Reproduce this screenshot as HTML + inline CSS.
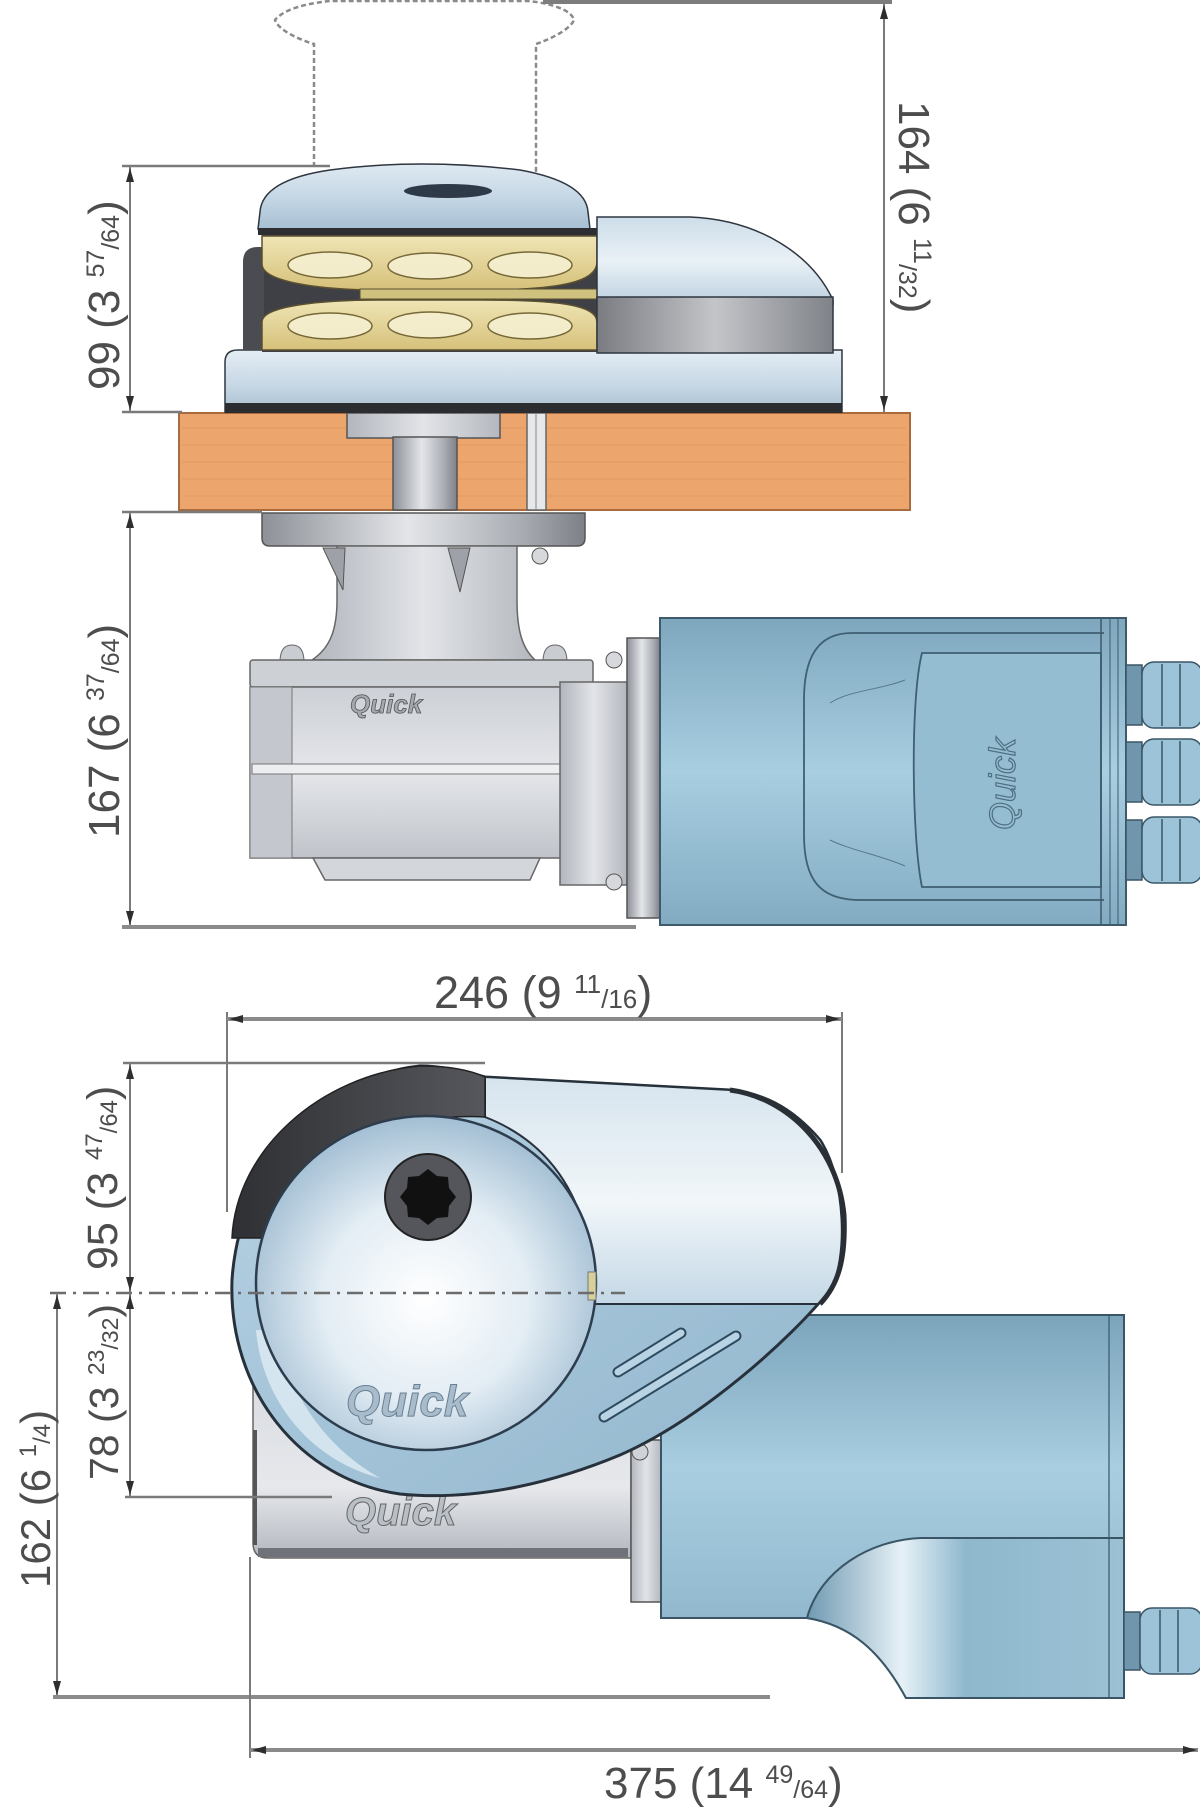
<!DOCTYPE html>
<html><head><meta charset="utf-8"><style>
html,body{margin:0;padding:0;background:#fff;}
svg{display:block;}
.dim{font-family:"Liberation Sans",sans-serif;fill:#4d4d4d;}
</style></head><body>
<svg width="1200" height="1809" viewBox="0 0 1200 1809" xmlns="http://www.w3.org/2000/svg">
<defs>
<linearGradient id="gDome" x1="0" y1="0" x2="0" y2="1"><stop offset="0" stop-color="#dfe9f1"/><stop offset="0.5" stop-color="#c6d8e6"/><stop offset="1" stop-color="#a7bfd2"/></linearGradient>
<linearGradient id="gBase" x1="0" y1="0" x2="0" y2="1"><stop offset="0" stop-color="#e4edf4"/><stop offset="0.6" stop-color="#c5d6e4"/><stop offset="1" stop-color="#a9bfd0"/></linearGradient>
<linearGradient id="gGold" x1="0" y1="0" x2="0" y2="1"><stop offset="0" stop-color="#efe5b5"/><stop offset="1" stop-color="#d6c17a"/></linearGradient>
<linearGradient id="gBand" x1="0" y1="0" x2="1" y2="0"><stop offset="0" stop-color="#7a7c82"/><stop offset="0.5" stop-color="#c3c5c9"/><stop offset="1" stop-color="#7f8288"/></linearGradient>
<linearGradient id="gHoodTop" x1="0" y1="0" x2="0" y2="1"><stop offset="0" stop-color="#cddde9"/><stop offset="0.5" stop-color="#e9f1f6"/><stop offset="1" stop-color="#bcd0df"/></linearGradient>
<linearGradient id="gSteel" x1="0" y1="0" x2="1" y2="0"><stop offset="0" stop-color="#8d9197"/><stop offset="0.45" stop-color="#e3e5e9"/><stop offset="0.8" stop-color="#a9adb3"/><stop offset="1" stop-color="#7d8187"/></linearGradient>
<linearGradient id="gSteel2" x1="0" y1="0" x2="1" y2="0"><stop offset="0" stop-color="#b2b6bd"/><stop offset="0.5" stop-color="#e2e4e8"/><stop offset="1" stop-color="#b4b8be"/></linearGradient>
<linearGradient id="gBody" x1="0" y1="0" x2="0" y2="1"><stop offset="0" stop-color="#cdd0d6"/><stop offset="0.5" stop-color="#e4e6ea"/><stop offset="1" stop-color="#c0c4ca"/></linearGradient>
<linearGradient id="gMotor" x1="0" y1="0" x2="0" y2="1"><stop offset="0" stop-color="#7ea7be"/><stop offset="0.5" stop-color="#a8cee1"/><stop offset="1" stop-color="#82abc2"/></linearGradient>
<linearGradient id="gMotorP" x1="0" y1="0" x2="0" y2="1"><stop offset="0" stop-color="#7ba4bb"/><stop offset="0.4" stop-color="#a9cee1"/><stop offset="1" stop-color="#85adc4"/></linearGradient>
<linearGradient id="gFoot" x1="0" y1="0" x2="1" y2="0"><stop offset="0" stop-color="#6f9ab2"/><stop offset="0.3" stop-color="#e6f1f7"/><stop offset="0.5" stop-color="#8fb8cd"/><stop offset="1" stop-color="#9cc1d5"/></linearGradient>
<radialGradient id="gDrum" cx="0.5" cy="0.55" r="0.55"><stop offset="0" stop-color="#ffffff"/><stop offset="0.55" stop-color="#e3edf4"/><stop offset="1" stop-color="#a2bed3"/></radialGradient>
<linearGradient id="gHoodP" x1="0" y1="0" x2="0" y2="1"><stop offset="0" stop-color="#d6e4ee"/><stop offset="0.55" stop-color="#f1f6f9"/><stop offset="1" stop-color="#c4d8e6"/></linearGradient>
<linearGradient id="gShell" x1="0" y1="0" x2="1" y2="1"><stop offset="0" stop-color="#b9d3e4"/><stop offset="0.5" stop-color="#a3c3d8"/><stop offset="1" stop-color="#93b7cd"/></linearGradient>
<linearGradient id="gRim" x1="0" y1="0" x2="1" y2="0"><stop offset="0" stop-color="#2f3034"/><stop offset="1" stop-color="#55575c"/></linearGradient>
<linearGradient id="gGearP" x1="0" y1="0" x2="0" y2="1"><stop offset="0" stop-color="#d9dce1"/><stop offset="0.6" stop-color="#e6e8ec"/><stop offset="1" stop-color="#b3b7be"/></linearGradient>
</defs>

<!-- ============ TOP SECTION: side elevation ============ -->
<!-- dashed capstan -->
<path d="M314,167 V44 C300,40 278,30 275,20 C285,8 310,3 330,1 H528 C550,3 572,10 574,20 C570,30 548,40 536,44 V172" fill="none" stroke="#8a8a8a" stroke-width="2.5" stroke-dasharray="5 3"/>
<line x1="543" y1="2" x2="892" y2="2" stroke="#7d7d7d" stroke-width="4"/>

<!-- deck -->
<rect x="179" y="413" width="731" height="97" fill="#eba56d" stroke="#a86b3d" stroke-width="2"/>
<g stroke="#dc9659" stroke-width="1" opacity="0.6">
<line x1="182" y1="428" x2="906" y2="428"/><line x1="182" y1="445" x2="906" y2="445"/><line x1="182" y1="462" x2="906" y2="462"/><line x1="182" y1="479" x2="906" y2="479"/><line x1="182" y1="496" x2="906" y2="496"/>
</g>
<rect x="347" y="413" width="153" height="25" fill="url(#gSteel2)" stroke="#555" stroke-width="1.5"/>
<rect x="393" y="437" width="64" height="73" fill="url(#gSteel)" stroke="#555" stroke-width="1.5"/>
<rect x="527" y="413" width="19" height="97" fill="#e6e8ea" stroke="#666" stroke-width="1.5"/>
<line x1="536" y1="413" x2="536" y2="510" stroke="#888" stroke-width="1"/>

<!-- base plate -->
<path d="M225,412 V362 Q225,350 238,350 H842 V412 Z" fill="url(#gBase)" stroke="#2f3640" stroke-width="1.5"/>
<rect x="225" y="403" width="617" height="10" fill="#2c2d31"/>
<!-- gypsy -->
<path d="M262,232 H600 V352 H262 Z" fill="#3f4045"/>
<path d="M243,262 Q243,247 258,247 H264 V350 H243 Z" fill="#4b4c51"/>
<path d="M262,236 H597 V262 C597,282 560,290 480,290 H380 C320,290 262,282 262,264 Z" fill="url(#gGold)" stroke="#5b5030" stroke-width="1.5"/>
<path d="M262,350 H597 V322 C597,305 560,300 480,300 H380 C320,300 262,306 262,322 Z" fill="url(#gGold)" stroke="#5b5030" stroke-width="1.5"/>
<rect x="360" y="289" width="237" height="10" fill="#cfc17e" stroke="#5b5030" stroke-width="1"/>
<g fill="#f6f0d2" stroke="#6b5e2e" stroke-width="1.5" opacity="0.9">
<ellipse cx="330" cy="265" rx="42" ry="13"/><ellipse cx="430" cy="266" rx="42" ry="13"/><ellipse cx="530" cy="265" rx="42" ry="13"/>
<ellipse cx="330" cy="326" rx="42" ry="13"/><ellipse cx="430" cy="325" rx="42" ry="13"/><ellipse cx="530" cy="326" rx="42" ry="13"/>
</g>
<!-- dome -->
<path d="M258,229 L260,212 Q262,180 330,170 Q420,158 520,170 Q586,182 588,212 L590,229 Z" fill="url(#gDome)" stroke="#2f3640" stroke-width="1.5"/>
<rect x="258" y="228" width="342" height="7" fill="#2d2e32"/>
<ellipse cx="448" cy="191" rx="44" ry="7" fill="#2e3a48"/>
<!-- hood -->
<path d="M597,217 H690 C760,220 812,255 833,300 L833,305 H597 Z" fill="url(#gHoodTop)" stroke="#2f3640" stroke-width="1.5"/>
<path d="M597,297 H833 V353 H597 Z" fill="url(#gBand)" stroke="#2f3640" stroke-width="1.5"/>

<!-- gearbox side -->
<path d="M262,513 H585 V538 Q585,546 577,546 H270 Q262,546 262,538 Z" fill="url(#gSteel)" stroke="#555" stroke-width="1.5"/>
<path d="M337,546 H517 V600 C517,630 522,648 535,660 H312 C330,648 337,630 337,600 Z" fill="url(#gSteel2)" stroke="#666" stroke-width="1.5"/>
<path d="M323,548 L345,548 L343,590 Z" fill="#9ea2a8" stroke="#555"/>
<path d="M448,548 L470,548 L460,592 Z" fill="#9ea2a8" stroke="#555"/>
<circle cx="540" cy="556" r="8" fill="#d6d8dc" stroke="#555"/>
<path d="M280,662 Q280,645 292,645 Q304,645 304,662 Z" fill="#c9ccd1" stroke="#666"/>
<path d="M543,662 Q543,645 555,645 Q567,645 567,662 Z" fill="#c9ccd1" stroke="#666"/>
<rect x="250" y="660" width="343" height="27" rx="3" fill="#cdd0d5" stroke="#666" stroke-width="1.5"/>
<rect x="250" y="687" width="313" height="171" fill="url(#gBody)" stroke="#666" stroke-width="1.5"/>
<rect x="250" y="687" width="42" height="171" fill="#c4c7cd" stroke="#777" stroke-width="1"/>
<rect x="252" y="764" width="308" height="10" fill="#eceef0" stroke="#777" stroke-width="1"/>
<rect x="560" y="682" width="67" height="203" fill="url(#gSteel2)" stroke="#666" stroke-width="1.5"/>
<path d="M313,858 H540 L530,880 H325 Z" fill="#d3d6db" stroke="#666" stroke-width="1.5"/>
<text x="350" y="713" font-family="Liberation Sans,sans-serif" font-size="26" font-style="italic" font-weight="bold" fill="#a4aab2" stroke="#555" stroke-width="0.8">Quick</text>
<rect x="627" y="638" width="33" height="280" fill="url(#gSteel)" stroke="#555" stroke-width="1.5"/>
<circle cx="614" cy="660" r="8" fill="#d6d8dc" stroke="#555"/>
<circle cx="614" cy="882" r="8" fill="#d6d8dc" stroke="#555"/>

<!-- motor side -->
<rect x="660" y="618" width="466" height="307" fill="url(#gMotor)" stroke="#3e5a6b" stroke-width="2"/>
<path d="M1104,633 H852 C816,633 804,660 804,700 V835 C804,880 820,900 860,900 H1104" fill="none" stroke="#3f5f72" stroke-width="1.8"/>
<path d="M922,653 H1101 V887 H922 C912,840 910,700 922,653 Z" fill="#95bdd1" stroke="#3f5f72" stroke-width="1.8"/>
<path d="M830,703 C850,690 880,690 905,680" fill="none" stroke="#56788a" stroke-width="1"/>
<path d="M830,840 C850,850 880,855 905,866" fill="none" stroke="#56788a" stroke-width="1"/>
<line x1="1101" y1="618" x2="1101" y2="925" stroke="#3e5a6b" stroke-width="1.5"/>
<line x1="1110" y1="618" x2="1110" y2="925" stroke="#3e5a6b" stroke-width="1"/>
<line x1="1118" y1="618" x2="1118" y2="925" stroke="#3e5a6b" stroke-width="1"/>
<text transform="translate(1015,830) rotate(-90)" font-family="Liberation Sans,sans-serif" font-size="36" font-style="italic" fill="none" stroke="#4f6f82" stroke-width="1.2">Quick</text>
<g stroke="#3a5666" stroke-width="1.5">
<rect x="1126" y="665" width="16" height="60" fill="#6f96ad"/><rect x="1142" y="662" width="60" height="66" rx="12" fill="#9cc3d7"/>
<rect x="1126" y="742" width="16" height="60" fill="#6f96ad"/><rect x="1142" y="739" width="60" height="66" rx="12" fill="#9cc3d7"/>
<rect x="1126" y="820" width="16" height="60" fill="#6f96ad"/><rect x="1142" y="817" width="60" height="66" rx="12" fill="#9cc3d7"/>
<line x1="1162" y1="664" x2="1162" y2="726"/><line x1="1180" y1="664" x2="1180" y2="726"/>
<line x1="1162" y1="741" x2="1162" y2="803"/><line x1="1180" y1="741" x2="1180" y2="803"/>
<line x1="1162" y1="819" x2="1162" y2="881"/><line x1="1180" y1="819" x2="1180" y2="881"/>
</g>

<!-- ============ BOTTOM SECTION: plan view ============ -->
<!-- gearbox plan -->
<path d="M253,1380 H631 V1558 H268 Q253,1558 253,1543 Z" fill="url(#gGearP)" stroke="#666" stroke-width="1.5"/>
<rect x="258" y="1548" width="370" height="9" fill="#6f7278"/>
<line x1="255" y1="1430" x2="255" y2="1545" stroke="#555" stroke-width="4"/>
<text x="345" y="1525" font-family="Liberation Sans,sans-serif" font-size="40" font-style="italic" font-weight="bold" fill="#b9bfc7" stroke="#666" stroke-width="1">Quick</text>
<rect x="631" y="1440" width="30" height="162" fill="url(#gSteel2)" stroke="#555" stroke-width="1.5"/>
<circle cx="640" cy="1452" r="8" fill="#cfd2d6" stroke="#555"/>
<!-- motor plan -->
<path d="M661,1315 H1124 V1698 H906 C880,1650 850,1625 807,1618 H661 Z" fill="url(#gMotorP)" stroke="#3a5666" stroke-width="2"/>
<path d="M807,1618 C820,1570 870,1540 921,1538 H1124 V1698 H906 C880,1650 850,1625 807,1618 Z" fill="url(#gFoot)" stroke="#3a5666" stroke-width="2"/>
<line x1="1109" y1="1315" x2="1109" y2="1698" stroke="#3a5666" stroke-width="1.2"/>
<g stroke="#3a5666" stroke-width="1.5">
<rect x="1124" y="1612" width="16" height="58" fill="#6f96ad"/><rect x="1140" y="1608" width="62" height="66" rx="12" fill="#9cc3d7"/>
<line x1="1160" y1="1610" x2="1160" y2="1672"/><line x1="1178" y1="1610" x2="1178" y2="1672"/>
</g>
<!-- hood plan -->
<path d="M420,1066 C330,1075 240,1160 232,1280 C228,1390 300,1480 400,1494 C480,1502 560,1480 620,1455 C700,1420 790,1340 830,1290 C848,1260 846,1180 820,1140 C790,1105 760,1093 730,1090 L485,1077 C460,1070 440,1066 420,1066 Z" fill="url(#gShell)" stroke="#27313b" stroke-width="3"/>
<path d="M256,1330 C262,1400 310,1460 380,1478 C330,1450 290,1400 276,1330 Z" fill="#e0ecf4" opacity="0.8"/>
<path d="M485,1077 L730,1090 C760,1093 790,1105 820,1140 C846,1180 848,1260 830,1290 L818,1304 H592 C596,1230 570,1150 485,1117 Z" fill="url(#gHoodP)" stroke="#27313b" stroke-width="2"/>
<path d="M730,1090 C790,1098 838,1150 844,1215 C846,1260 838,1285 820,1304" fill="none" stroke="#2a2f36" stroke-width="5"/>
<path d="M232,1238 C236,1150 320,1075 420,1066 C450,1066 470,1070 485,1077 L485,1117 C400,1112 300,1150 262,1238 Z" fill="url(#gRim)" stroke="#222" stroke-width="1.5"/>
<ellipse cx="426" cy="1283" rx="170" ry="167" fill="url(#gDrum)" stroke="#2d3d4d" stroke-width="2.5"/>
<circle cx="428" cy="1197" r="43" fill="#55565b" stroke="#222" stroke-width="2"/>
<polygon points="428,1169 437,1176 448,1177 449,1188 456,1197 449,1206 448,1217 437,1218 428,1225 419,1218 408,1217 407,1206 400,1197 407,1188 408,1177 419,1176" fill="#111"/>
<rect x="588" y="1272" width="8" height="28" fill="#d8d09a" stroke="#777" stroke-width="1"/>
<line x1="618" y1="1372" x2="681" y2="1333" stroke="#2e4a5e" stroke-width="11" stroke-linecap="round"/>
<line x1="618" y1="1372" x2="681" y2="1333" stroke="#b8d3e4" stroke-width="7" stroke-linecap="round"/>
<line x1="604" y1="1417" x2="736" y2="1336" stroke="#2e4a5e" stroke-width="11" stroke-linecap="round"/>
<line x1="604" y1="1417" x2="736" y2="1336" stroke="#b8d3e4" stroke-width="7" stroke-linecap="round"/>
<text x="346" y="1416" font-family="Liberation Sans,sans-serif" font-size="44" font-style="italic" font-weight="bold" fill="#a9bccb" stroke="#6a8093" stroke-width="1">Quick</text>

<!-- ============ DIMENSIONS ============ -->
<g stroke="#7a7a7a" fill="none">
<!-- 164 -->
<line x1="884" y1="3" x2="884" y2="412" stroke-width="2"/>
<!-- 99 -->
<line x1="122" y1="166" x2="330" y2="166" stroke-width="2.5"/>
<line x1="130" y1="166" x2="130" y2="412" stroke-width="2"/>
<line x1="122" y1="412" x2="182" y2="412" stroke-width="2.5"/>
<!-- 167 -->
<line x1="122" y1="512" x2="262" y2="512" stroke-width="2.5"/>
<line x1="130" y1="512" x2="130" y2="927" stroke-width="2"/>
<line x1="122" y1="927" x2="636" y2="927" stroke-width="4" stroke="#8a8a8a"/>
<!-- 246 -->
<line x1="227" y1="1012" x2="227" y2="1212" stroke-width="2"/>
<line x1="842" y1="1012" x2="842" y2="1173" stroke-width="2"/>
<line x1="227" y1="1019" x2="842" y2="1019" stroke-width="4" stroke="#8a8a8a"/>
<!-- 95 -->
<line x1="123" y1="1063" x2="485" y2="1063" stroke-width="2.5"/>
<line x1="130" y1="1063" x2="130" y2="1293" stroke-width="2"/>
<!-- center line -->
<line x1="50" y1="1293" x2="625" y2="1293" stroke-width="2.5" stroke="#6c6c6c" stroke-dasharray="16 7 3 7"/>
<!-- 78 -->
<line x1="130" y1="1293" x2="130" y2="1497" stroke-width="2"/>
<line x1="125" y1="1497" x2="332" y2="1497" stroke-width="2.5"/>
<!-- 162 -->
<line x1="57" y1="1293" x2="57" y2="1697" stroke-width="2"/>
<line x1="53" y1="1697" x2="770" y2="1697" stroke-width="4" stroke="#8a8a8a"/>
<!-- 375 -->
<line x1="250" y1="1557" x2="250" y2="1758" stroke-width="2"/>
<line x1="250" y1="1750" x2="1198" y2="1750" stroke-width="4" stroke="#8a8a8a"/>
</g>
<g fill="#2e2e2e">
<polygon points="884,5 880,19 888,19"/><polygon points="884,410 880,396 888,396"/>
<polygon points="130,168 126,182 134,182"/><polygon points="130,410 126,396 134,396"/>
<polygon points="130,514 126,528 134,528"/><polygon points="130,925 126,911 134,911"/>
<polygon points="229,1019 243,1015 243,1023"/><polygon points="840,1019 826,1015 826,1023"/>
<polygon points="130,1065 126,1079 134,1079"/><polygon points="130,1291 126,1277 134,1277"/>
<polygon points="130,1295 126,1309 134,1309"/><polygon points="130,1495 126,1481 134,1481"/>
<polygon points="57,1295 53,1309 61,1309"/><polygon points="57,1695 53,1681 61,1681"/>
<polygon points="252,1750 266,1746 266,1754"/><polygon points="1197,1750 1183,1746 1183,1754"/>
</g>

<!-- labels -->
<text class="dim" transform="translate(899,101) rotate(90)" font-size="44">164 (6 <tspan font-size="25" dy="-15">11</tspan><tspan font-size="25" dy="15">/32</tspan>)</text>
<text class="dim" transform="translate(119,390) rotate(-90)" font-size="44">99 (3 <tspan font-size="25" dy="-15">57</tspan><tspan font-size="25" dy="15">/64</tspan>)</text>
<text class="dim" transform="translate(119,838) rotate(-90)" font-size="44">167 (6 <tspan font-size="25" dy="-15">37</tspan><tspan font-size="25" dy="15">/64</tspan>)</text>
<text class="dim" x="434" y="1008" font-size="45">246 (9 <tspan font-size="26" dy="-15">11</tspan><tspan font-size="26" dy="15">/16</tspan>)</text>
<text class="dim" transform="translate(117,1270) rotate(-90)" font-size="43">95 (3 <tspan font-size="24" dy="-15">47</tspan><tspan font-size="24" dy="15">/64</tspan>)</text>
<text class="dim" transform="translate(118,1480) rotate(-90)" font-size="41">78 (3 <tspan font-size="23" dy="-14">23</tspan><tspan font-size="23" dy="14">/32</tspan>)</text>
<text class="dim" transform="translate(50,1588) rotate(-90)" font-size="42">162 (6 <tspan font-size="24" dy="-14">1</tspan><tspan font-size="24" dy="14">/4</tspan>)</text>
<text class="dim" x="604" y="1798" font-size="44">375 (14 <tspan font-size="25" dy="-15">49</tspan><tspan font-size="25" dy="15">/64</tspan>)</text>
</svg>
</body></html>
